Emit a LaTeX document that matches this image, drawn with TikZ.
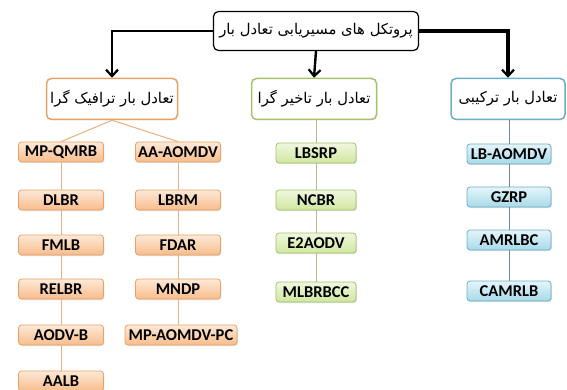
\documentclass[tikz,border=0pt]{standalone}
\usepackage{fontspec}
\setmainfont{Carlito}
\newfontfamily\arabicfont[Script=Arabic]{DejaVu Sans}
\TeXXeTstate=1
\usetikzlibrary{arrows.meta,shadows}

\definecolor{orbord}{HTML}{E9A264}
\definecolor{ortop}{HTML}{FDE9D9}
\definecolor{orbot}{HTML}{F8BC8A}
\definecolor{orline}{HTML}{E8B07C}
\definecolor{grbord}{HTML}{A5C26A}
\definecolor{grtop}{HTML}{F0F8DE}
\definecolor{grbot}{HTML}{CFE7A0}
\definecolor{grline}{HTML}{B7BC86}
\definecolor{blbord}{HTML}{6DAFC4}
\definecolor{bltop}{HTML}{E6F5FA}
\definecolor{blbot}{HTML}{A6DAE9}
\definecolor{blline}{HTML}{6F8A9E}

\tikzset{
    leaf/.style={draw, rounded corners=3pt, line width=0.8pt,
        minimum height=20pt, inner sep=1pt,
        font=\bfseries\fontsize{16.5}{16.5}\selectfont,
        drop shadow={opacity=0.25, shadow xshift=0.8pt, shadow yshift=-1pt}},
    orleaf/.style={leaf, draw=orbord, top color=ortop, bottom color=orbot, minimum width=85pt},
    grleaf/.style={leaf, draw=grbord, top color=grtop, bottom color=grbot, minimum width=80pt},
    blleaf/.style={leaf, draw=blbord, top color=bltop, bottom color=blbot, minimum width=84pt},
    cat/.style={draw, fill=white, rounded corners=5pt, line width=1.5pt,
        minimum height=41pt, inner sep=1pt,
        font=\arabicfont\fontsize{14.8}{14.8}\selectfont,
        drop shadow={opacity=0.15, shadow xshift=0.8pt, shadow yshift=-1pt}},
    topbox/.style={draw, fill=white, rounded corners=5pt, line width=1.2pt,
        minimum width=205pt, minimum height=39pt, inner sep=1pt,
        font=\arabicfont\fontsize{14.8}{14.8}\selectfont},
    mainarrow/.style={draw, line width=2.4pt, -{Straight Barb[length=6.5pt,width=12pt,line width=2.2pt]}}
}

\begin{document}
\begin{tikzpicture}[x=1pt, y=-1pt]

    \useasboundingbox (0,0) rectangle (567,390);

    % Radice
    \node[topbox] (root) at (316,31) {\beginR پروتکل های مسیریابی تعادل بار\endR};

    % Categorie
    \node[cat, draw=orbord, minimum width=131pt] (traffic) at (112,99) {\beginR تعادل بار ترافیک گرا\endR};
    \node[cat, draw=grbord, minimum width=125pt] (delay) at (314,99) {\beginR تعادل بار تاخیر گرا\endR};
    \node[cat, draw=blbord, minimum width=114pt] (hybrid) at (508,99) {\beginR تعادل بار ترکیبی\endR};

    % Frecce
    \draw[mainarrow] (root.west) -| (traffic.north);
    \draw[mainarrow] (root.south) -- (delay.north);
    \draw[mainarrow, line width=3.6pt] (root.east) -| (hybrid.north);

    % Traffico, colonna 1
    \node[orleaf] (mpqmrb) at (61,152) {MP-QMRB};
    \node[orleaf] (dlbr)   at (61,200) {DLBR};
    \node[orleaf] (fmlb)   at (61,245) {FMLB};
    \node[orleaf] (relbr)  at (61,289) {RELBR};
    \node[orleaf] (aodvb)  at (61,335) {AODV-B};
    \node[orleaf] (aalb)   at (61,381) {AALB};

    % Traffico, colonna 2
    \node[orleaf] (aaaomdv) at (178,152) {AA-AOMDV};
    \node[orleaf] (lbrm)    at (178,200) {LBRM};
    \node[orleaf] (fdar)    at (178,245) {FDAR};
    \node[orleaf] (mndp)    at (178,289) {MNDP};
    \node[orleaf, minimum width=112pt] (mpaomdvpc) at (181,335) {MP-AOMDV-PC};

    % Ritardo
    \node[grleaf] (lbsrp)   at (316,153) {LBSRP};
    \node[grleaf] (ncbr)    at (316,200) {NCBR};
    \node[grleaf] (etwo)    at (316,243) {E2AODV};
    \node[grleaf] (mlbrbcc) at (316,292) {MLBRBCC};

    % Ibrido
    \node[blleaf] (lbaomdv) at (509,154) {LB-AOMDV};
    \node[blleaf] (gzrp)    at (509,197) {GZRP};
    \node[blleaf] (amrlbc)  at (509,240) {AMRLBC};
    \node[blleaf] (camrlb)  at (509,291) {CAMRLB};

    % Collegamenti
    \draw[orline, line width=1pt] (traffic.south) -- (mpqmrb.north);
    \draw[orline, line width=1pt] (traffic.south) -- (aaaomdv.north);
    \draw[orline, line width=1pt] (mpqmrb) -- (dlbr) -- (fmlb) -- (relbr) -- (aodvb) -- (aalb);
    \draw[orline, line width=1pt] (aaaomdv) -- (lbrm) -- (fdar) -- (mndp) -- (mndp.south |- mpaomdvpc.north);
    \draw[grline, line width=1pt] (delay.south -| lbsrp.north) -- (lbsrp) -- (ncbr) -- (etwo) -- (mlbrbcc);
    \draw[blline, line width=1pt] (hybrid.south -| lbaomdv.north) -- (lbaomdv) -- (gzrp) -- (amrlbc) -- (camrlb);

\end{tikzpicture}
\end{document}
